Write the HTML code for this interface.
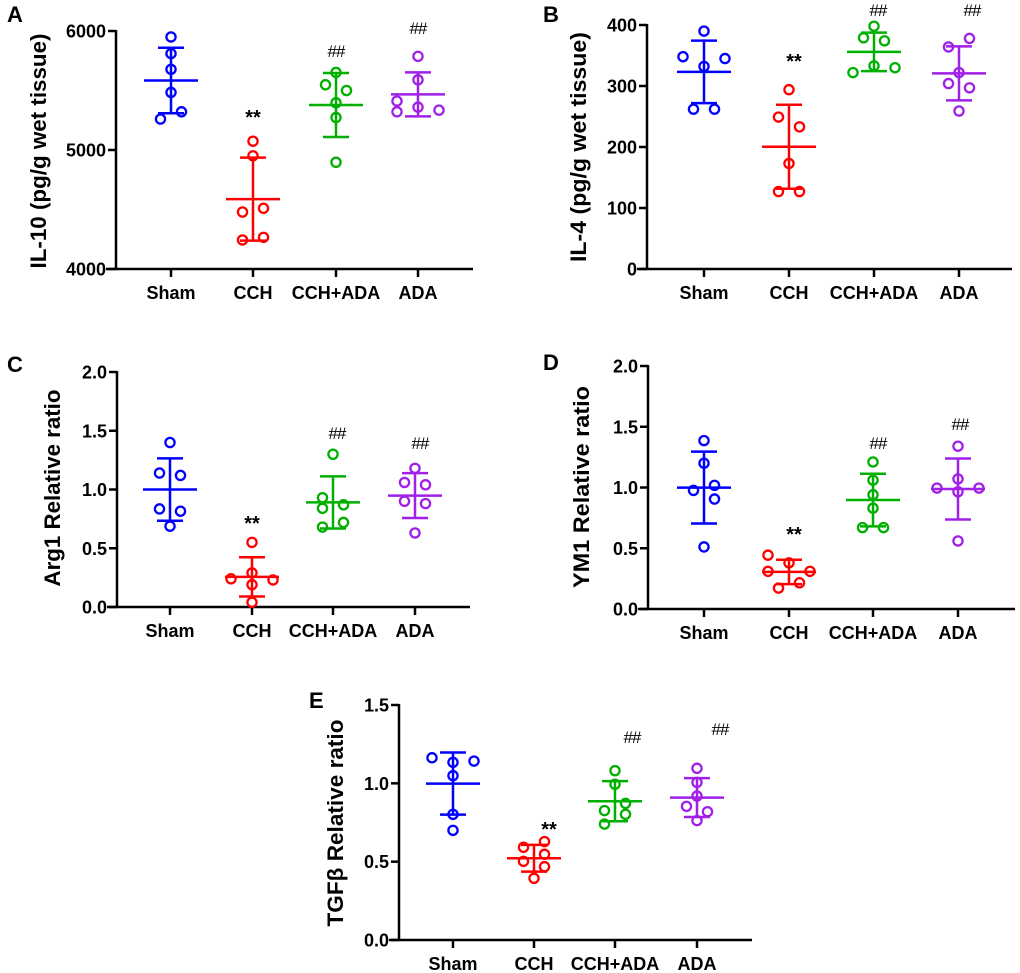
<!DOCTYPE html>
<html><head><meta charset="utf-8">
<style>
html,body{margin:0;padding:0;background:#fff;}
svg{display:block;font-family:"Liberation Sans",Arial,sans-serif;}
</style></head>
<body>
<svg id="fig" width="1020" height="973" viewBox="0 0 1020 973" xmlns="http://www.w3.org/2000/svg"></svg>
<script>
const categories = ["Sham","CCH","CCH+ADA","ADA"];
const colors = ["#0000ff","#ff0000","#00b000","#a020e8"];
// Panel A: IL-10
const aSham=[5950,5810,5678,5484,5321,5260];
const aCCH=[5074,4951,4510,4479,4266,4244];
const aCCHADA=[5652,5548,5500,5397,5273,4897];
const aADA=[5787,5590,5411,5321,5360,5335];
const aTicks=[4000,5000,6000];
// Panel B: IL-4
const bSham=[390,348,345,332,262,262];
const bCCH=[294,249,233,173,127,127];
const bCCHADA=[398,379,374,333,330,322];
const bADA=[378,364,322,304,297,259];
const bTicks=[0,100,200,300,400];
// Panel C: Arg1
const cSham=[1.40,1.14,1.12,0.835,0.815,0.688];
const cCCH=[0.55,0.29,0.24,0.23,0.19,0.04];
const cCCHADA=[1.30,0.93,0.87,0.84,0.72,0.68];
const cADA=[1.18,1.06,1.04,0.90,0.88,0.63];
const cTicks=[0.0,0.5,1.0,1.5,2.0];
// Panel D: YM1
const dSham=[1.386,1.20,1.018,0.976,0.905,0.511];
const dCCH=[0.443,0.38,0.31,0.31,0.216,0.172];
const dCCHADA=[1.21,1.06,0.94,0.83,0.67,0.67];
const dADA=[1.34,1.07,0.995,0.995,0.965,0.56];
const dTicks=[0.0,0.5,1.0,1.5,2.0];
// Panel E: TGFb
const eSham=[1.163,1.142,1.134,1.049,0.802,0.70];
const eCCH=[0.628,0.592,0.547,0.502,0.468,0.394];
const eCCHADA=[1.081,0.994,0.872,0.826,0.802,0.74];
const eADA=[1.096,1.006,0.919,0.853,0.819,0.762];
const eTicks=[0.0,0.5,1.0,1.5];

const NS="http://www.w3.org/2000/svg";
const svg=document.getElementById('fig');
function mk(tag,attrs,parent,text){
  const e=document.createElementNS(NS,tag);
  for(const k in attrs) e.setAttribute(k,attrs[k]);
  if(text!==undefined) e.textContent=text;
  (parent||svg).appendChild(e);
  return e;
}
function meanSd(v){
  const m=v.reduce((a,b)=>a+b,0)/v.length;
  const s=Math.sqrt(v.reduce((a,b)=>a+(b-m)*(b-m),0)/(v.length-1));
  return [m,s];
}
function panel(p){
  const g=mk('g',{});
  
  
  const y=v=>p.y0-(v-p.min)/(p.max-p.min)*(p.y0-p.y1);
  const x=i=>p.gx[i];
  const L=mk('text',{x:p.letter[0],y:p.letter[1],'font-size':22,'font-weight':'bold'},g,p.letterText);
  
  
  const ya=mk('line',{x1:p.ax,y1:p.y1-1,x2:p.ax,y2:p.y0+1,stroke:'#000','stroke-width':2.5},g);
  
  
  const xa=mk('line',{x1:p.ax-10,y1:p.y0,x2:p.xr,y2:p.y0,stroke:'#000','stroke-width':2.5},g);
  
  
  p.ticks.forEach(t=>{
    const ty=y(t);
    mk('line',{x1:p.ax-8,y1:ty,x2:p.ax,y2:ty,stroke:'#000','stroke-width':2.5},g);
    const tl=mk('text',{x:p.ax-10,y:ty+6.5,'font-size':18,'font-weight':'bold','text-anchor':'end'},g,p.fmt(t));
    
    
  });
  categories.forEach((c,i)=>{
    mk('line',{x1:x(i),y1:p.y0,x2:x(i),y2:p.y0+8,stroke:'#000','stroke-width':2.5},g);
    const cl=mk('text',{x:x(i),y:p.y0+30,'font-size':18,'font-weight':'bold','text-anchor':'middle'},g,c);
    
    
  });
  const tt=mk('text',{transform:`translate(${p.title[0]},${p.title[1]}) rotate(-90)`,'font-size':22,'font-weight':'bold','text-anchor':'middle',textLength:p.titleLen,lengthAdjust:'spacingAndGlyphs'},g,p.titleText);
  
  
  p.series.forEach((vals,i)=>{
    const col=colors[i];
    const sg=mk('g',{},g);
    
    
    const [m,s]=meanSd(vals);
    mk('line',{x1:x(i),y1:y(m+s),x2:x(i),y2:y(m-s),stroke:col,'stroke-width':2.5},sg);
    mk('line',{x1:x(i)-13,y1:y(m+s),x2:x(i)+13,y2:y(m+s),stroke:col,'stroke-width':2.5},sg);
    mk('line',{x1:x(i)-13,y1:y(m-s),x2:x(i)+13,y2:y(m-s),stroke:col,'stroke-width':2.5},sg);
    const ml=mk('line',{x1:x(i)-27,y1:y(m),x2:x(i)+27,y2:y(m),stroke:col,'stroke-width':2.5},sg);
    
    
    vals.forEach((v,j)=>{
      const c=mk('circle',{cx:x(i)+p.jit[i][j]*10.5,cy:y(v),r:4.6,fill:'none',stroke:col,'stroke-width':2.3},sg);
      
      
    });
  });
  p.ann.forEach(a=>{
    const star=a[2]=='**';
    const at=mk('text',{x:x(a[0])+(a[3]||0),y:a[1],'font-size':star?20:17,'font-weight':star?'bold':'normal','text-anchor':'middle','letter-spacing':star?0:-1},g,a[2]);
    
    
  });
}
const f0=t=>String(t), f1=t=>t.toFixed(1);
panel({name:'panel-a-il10',letterText:'A',letter:[7,22],ax:116,y0:269,y1:31,xr:473,min:4000,max:6000,ticks:aTicks,fmt:f0,
  gx:[171,253,336,418],title:[46,151],titleLen:235,titleText:'IL-10 (pg/g wet tissue)',
  series:[aSham,aCCH,aCCHADA,aADA],
  jit:[[0,0,0,0,1,-1],[0,0,1,-1,1,-1],[0,-1,1,0,0,0],[0,0,-2,-2,0,2]],
  ann:[[1,124,'**'],[2,57,'##'],[3,34,'##']]});
panel({name:'panel-b-il4',letterText:'B',letter:[543,22],ax:647,y0:269,y1:25,xr:1012,min:0,max:400,ticks:bTicks,fmt:f0,
  gx:[704,789,874,959],title:[586,147],titleLen:230,titleText:'IL-4 (pg/g wet tissue)',
  series:[bSham,bCCH,bCCHADA,bADA],
  jit:[[0,-2,2,0,-1,1],[0,-1,1,0,-1,1],[0,-1,1,0,2,-2],[1,-1,0,-1,1,0]],
  ann:[[1,68,'**',5],[2,16,'##',4],[3,16,'##',13]]});
panel({name:'panel-c-arg1',letterText:'C',letter:[7,372],ax:117,y0:607,y1:372,xr:470,min:0,max:2,ticks:cTicks,fmt:f1,
  gx:[170,252,333,415],title:[60,488],titleLen:197,titleText:'Arg1 Relative ratio',
  series:[cSham,cCCH,cCCHADA,cADA],
  jit:[[0,-1,1,-1,1,0],[0,0,-2,2,0,0],[0,-1,1,-1,1,-1],[0,-1,1,-1,1,0]],
  ann:[[1,530,'**'],[2,439,'##',4],[3,449,'##',5]]});
panel({name:'panel-d-ym1',letterText:'D',letter:[543,370],ax:648,y0:609,y1:366,xr:1015,min:0,max:2,ticks:dTicks,fmt:f1,
  gx:[704,789,873,958],title:[589,487],titleLen:202,titleText:'YM1 Relative ratio',
  series:[dSham,dCCH,dCCHADA,dADA],
  jit:[[0,0,1,-1,1,0],[-2,0,-2,2,1,-1],[0,0,0,0,-1,1],[0,0,-2,2,0,0]],
  ann:[[1,541,'**',5],[2,449,'##',5],[3,430,'##',2]]});
panel({name:'panel-e-tgfb',letterText:'E',letter:[309,708],ax:399,y0:940,y1:705,xr:752,min:0,max:1.5,ticks:eTicks,fmt:f1,
  gx:[453,534,615,697],title:[343,823],titleLen:207,titleText:'TGFβ Relative ratio',
  series:[eSham,eCCH,eCCHADA,eADA],
  jit:[[-2,2,0,0,0,0],[1,-1,1,-1,1,0],[0,0,1,-1,1,-1],[0,0,0,-1,1,0]],
  ann:[[1,836,'**',15],[2,743,'##',17],[3,735,'##',23]]});
</script>
</body></html>
